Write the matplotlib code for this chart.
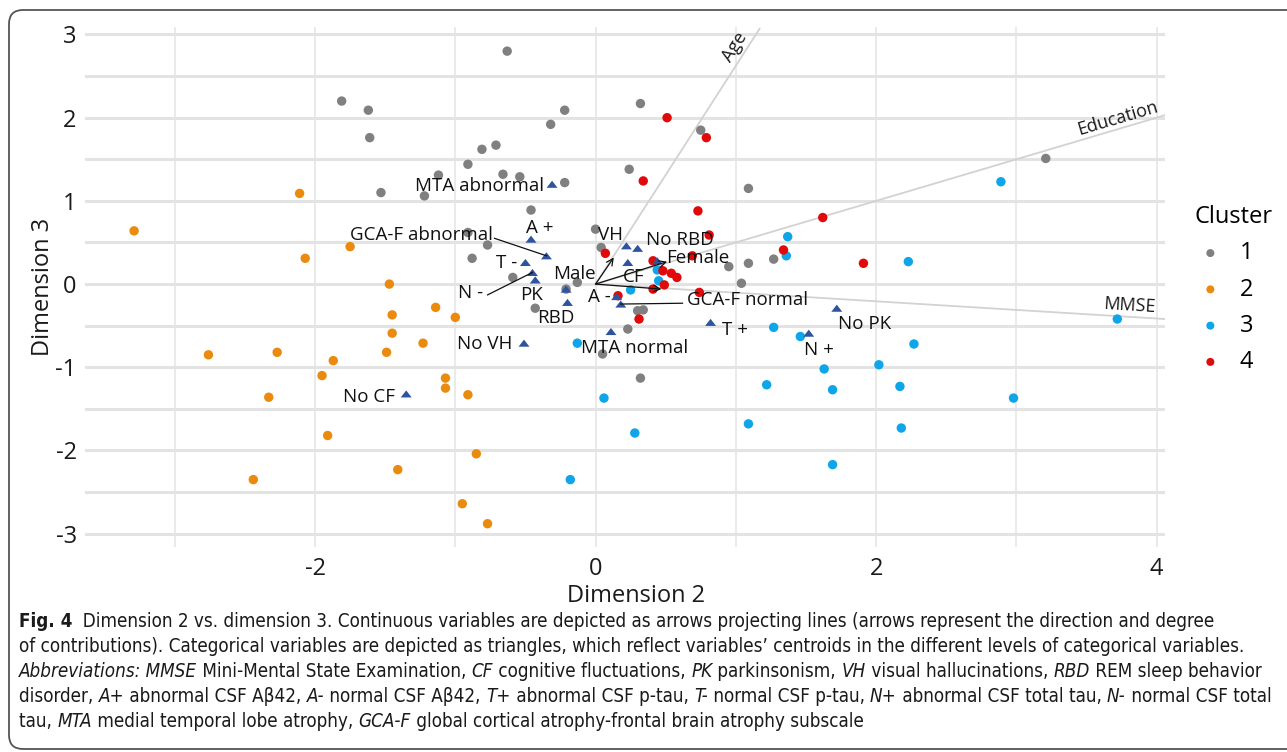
import matplotlib
matplotlib.use('Agg')
import matplotlib.pyplot as plt
from matplotlib import font_manager
from matplotlib.font_manager import FontProperties
from matplotlib.patches import FancyBboxPatch
from matplotlib.transforms import IdentityTransform

W, H = 1287, 752

# individual scores, Dimension 2 (x) vs Dimension 3 (y), by cluster
c1_x = [-1.81, -1.62, -1.61, -1.53, -1.22, -1.12, -0.91, -0.81, -0.71, -0.91, -0.77, -0.88, -0.63,
        -0.22, -0.32, 0.32, 0.75, 0.24, 1.09, -0.66, -0.54, -0.22, -0.46, 0.00, 0.04, 1.09, 1.27,
        0.95, -0.13, -0.59, 1.04, -0.43, -0.21, 0.30, 0.34, 0.23, 0.05, 0.32, 3.21]
c1_y = [2.20, 2.09, 1.76, 1.10, 1.06, 1.31, 1.44, 1.62, 1.67, 0.62, 0.47, 0.31, 2.80,
        2.09, 1.92, 2.17, 1.85, 1.38, 1.15, 1.32, 1.29, 1.22, 0.89, 0.66, 0.44, 0.25, 0.30,
        0.21, 0.02, 0.08, 0.01, -0.29, -0.06, -0.32, -0.31, -0.54, -0.84, -1.13, 1.51]

c2_x = [-3.29, -2.11, -2.07, -1.75, -1.47, -1.14, -1.00, -1.45, -1.45, -1.23, -1.49, -2.27, -2.76,
        -1.87, -1.95, -1.07, -1.07, -0.91, -2.33, -1.91, -0.85, -1.41, -2.44, -0.95, -0.77]
c2_y = [0.64, 1.09, 0.31, 0.45, 0.00, -0.28, -0.40, -0.37, -0.59, -0.71, -0.82, -0.82, -0.85,
        -0.92, -1.10, -1.13, -1.25, -1.33, -1.36, -1.82, -2.04, -2.23, -2.35, -2.64, -2.88]

c3_x = [0.25, -0.13, 0.06, 0.28, -0.18, 1.27, 1.46, 2.27, 1.63, 1.69, 2.02, 2.17, 1.22, 1.09,
        2.18, 1.69, 2.89, 2.23, 3.72, 2.98, 1.37, 1.36, 0.45, 0.44]
c3_y = [-0.07, -0.71, -1.37, -1.79, -2.35, -0.52, -0.63, -0.72, -1.02, -1.27, -0.97, -1.23, -1.21,
        -1.68, -1.73, -2.17, 1.23, 0.27, -0.42, -1.37, 0.57, 0.34, 0.04, 0.17]

c4_x = [0.51, 0.79, 0.34, 0.73, 1.62, 0.81, 1.34, 0.07, 1.91, 0.41, 0.48, 0.69, 0.54, 0.58,
        0.49, 0.41, 0.74, 0.16, 0.31]
c4_y = [2.00, 1.76, 1.24, 0.88, 0.80, 0.59, 0.41, 0.37, 0.25, 0.28, 0.16, 0.34, 0.13, 0.08,
        -0.01, -0.06, -0.10, -0.14, -0.42]

cluster_names = ['1', '2', '3', '4']
cluster_colors = ['#808080', '#EA8B10', '#0EA5E9', '#E10A0A']

# centroids of categorical variable levels
cat_names = ['MTA abnormal', 'A +', 'GCA-F abnormal', 'T -', 'N -', 'PK', 'Male', 'RBD', 'No VH',
             'No CF', 'VH', 'No RBD', 'CF', 'Female', 'A -', 'GCA-F normal', 'MTA normal', 'T +',
             'N +', 'No PK']
cat_x = [-0.31, -0.46, -0.35, -0.50, -0.45, -0.43, -0.21, -0.20, -0.51, -1.35, 0.22, 0.30, 0.23,
         0.44, 0.15, 0.18, 0.11, 0.82, 1.52, 1.72]
cat_y = [1.20, 0.54, 0.34, 0.26, 0.14, 0.05, -0.06, -0.22, -0.71, -1.32, 0.46, 0.43, 0.26,
         0.28, -0.15, -0.24, -0.57, -0.46, -0.59, -0.29]

# continuous variables: arrow tips and projecting line ends
cont_names = ['Age', 'Education', 'MMSE']
arrow_x = [0.13, 0.51, 0.47]
arrow_y = [0.32, 0.27, -0.06]
proj_x = [1.17, 4.06, 4.06]
proj_y = [3.07, 2.03, -0.42]

# label placement (x, y, ha)
label_pos = {
    'MTA abnormal': (-0.37, 1.18, 'right'), 'A +': (-0.40, 0.68, 'center'),
    'GCA-F abnormal': (-0.73, 0.59, 'right'), 'T -': (-0.56, 0.25, 'right'),
    'N -': (-0.80, -0.11, 'right'), 'PK': (-0.46, -0.13, 'center'),
    'Male': (-0.15, 0.12, 'center'), 'RBD': (-0.28, -0.41, 'center'),
    'No VH': (-0.59, -0.72, 'right'), 'No CF': (-1.43, -1.36, 'right'),
    'VH': (0.11, 0.59, 'center'), 'No RBD': (0.60, 0.53, 'center'),
    'CF': (0.27, 0.08, 'center'), 'Female': (0.50, 0.31, 'left'),
    'A -': (0.03, -0.16, 'center'), 'GCA-F normal': (0.65, -0.19, 'left'),
    'MTA normal': (0.28, -0.77, 'center'), 'T +': (0.90, -0.55, 'left'),
    'N +': (1.59, -0.79, 'center'), 'No PK': (1.73, -0.48, 'left'),
}
leaders = {'GCA-F abnormal': (-0.72, 0.55), 'N -': (-0.77, -0.13), 'GCA-F normal': (0.62, -0.23)}
cont_label_pos = [(0.99, 2.85, 57.5), (3.72, 1.99, 16.5), (3.81, -0.26, -3.5)]

plt.rcParams['font.family'] = ['Open Sans', 'DejaVu Sans']
plt.rcParams['axes.unicode_minus'] = False

fig = plt.figure(figsize=(W / 100, H / 100), dpi=100)
ax = fig.add_axes([85 / W, 1 - 547 / H, 1080 / W, 520 / H])
ax.set_xlim(-3.64, 4.06)
ax.set_ylim(-3.16, 3.09)

ax.set_xticks([-2, 0, 2, 4])
ax.set_xticks([-3, -1, 1, 3], minor=True)
ax.set_yticks([-3, -2, -1, 0, 1, 2, 3])
ax.set_yticks([-2.5, -1.5, -0.5, 0.5, 1.5, 2.5], minor=True)
ax.grid(axis='y', which='both', color='#e3e3e3', lw=2.2, zorder=0)
ax.grid(axis='x', which='both', color='#e6e6e6', lw=1.2, zorder=0)
ax.set_axisbelow(True)
for s in ax.spines.values():
    s.set_visible(False)
ax.tick_params(which='both', length=0, labelsize=17, colors='#1a1a1a')
ax.tick_params(axis='x', pad=7)
ax.tick_params(axis='y', pad=6)

# projecting lines
for i in range(3):
    ax.plot([0, proj_x[i]], [0, proj_y[i]], color='#d2d2d2', lw=1.3, zorder=1)
    lx, ly, rot = cont_label_pos[i]
    ax.text(lx, ly, cont_names[i], fontsize=13, rotation=rot, rotation_mode='anchor',
            ha='center', va='center', color='#1a1a1a', zorder=6)

xs = [c1_x, c2_x, c3_x, c4_x]
ys = [c1_y, c2_y, c3_y, c4_y]
handles = []
for i in range(4):
    h = ax.scatter(xs[i], ys[i], s=46, color=cluster_colors[i], edgecolors='none', zorder=3,
                   label=cluster_names[i])
    handles.append(h)

tri = [(-1, -0.65), (1, -0.65), (0, 0.65), (-1, -0.65)]
ax.scatter(cat_x, cat_y, marker=tri, s=62, color='#2E54A0', edgecolors='none', zorder=4)

for i in range(3):
    ax.annotate('', xy=(arrow_x[i], arrow_y[i]), xytext=(0, 0),
                arrowprops=dict(arrowstyle='->', color='#111111', lw=0.9, shrinkA=0, shrinkB=0,
                                mutation_scale=12), zorder=5)

for name, cx, cy in zip(cat_names, cat_x, cat_y):
    lx, ly, ha = label_pos[name]
    ax.text(lx, ly, name, fontsize=13.5, ha=ha, va='center', color='#111111', zorder=6)
    if name in leaders:
        ex, ey = leaders[name]
        ax.plot([ex, cx], [ey, cy], color='#111111', lw=0.9, zorder=5)

ax.set_xlabel('Dimension 2', fontsize=17, color='#1a1a1a')
ax.xaxis.set_label_coords(0.51, -0.072)
ax.set_ylabel('Dimension 3', fontsize=17, color='#1a1a1a')
ax.yaxis.set_label_coords(-0.028, 0.5)

ax.legend(handles=handles, title='Cluster', loc='upper left', bbox_to_anchor=(1195 / W, 1 - 205 / H),
          bbox_transform=fig.transFigure, frameon=False, fontsize=17, title_fontsize=17,
          markerscale=0.85, handlelength=1.3, handletextpad=0.6, labelspacing=0.52,
          borderpad=0, borderaxespad=0, alignment='left')

# frame around figure
box = FancyBboxPatch((9, 3), 1310, 739, boxstyle='round,pad=0,rounding_size=14',
                     transform=IdentityTransform(), fill=False, ec='#555555', lw=1.3)
fig.add_artist(box)

# caption: prefer a condensed face
files = [f.fname for f in font_manager.fontManager.ttflist]


def pick(cands):
    for c in cands:
        for fn in files:
            if fn.split('/')[-1].lower() == c.lower():
                return FontProperties(fname=fn)
    return None


cap_props = {
    'r': pick(['LiberationSansNarrow-Regular.ttf', 'DejaVuSansCondensed.ttf']),
    'i': pick(['LiberationSansNarrow-Italic.ttf', 'DejaVuSansCondensed-Oblique.ttf']),
    'b': pick(['LiberationSansNarrow-Bold.ttf', 'DejaVuSansCondensed-Bold.ttf']),
}
fallback = {'r': FontProperties(family='Liberation Sans'),
            'i': FontProperties(family='Liberation Sans', style='italic'),
            'b': FontProperties(family='Liberation Sans', weight='bold')}
for k in cap_props:
    if cap_props[k] is None:
        cap_props[k] = fallback[k]

renderer = fig.canvas.get_renderer()

caption = [
    [('Fig. 4', 'b'), ('  Dimension 2 vs. dimension 3. Continuous variables are depicted as arrows projecting lines (arrows represent the direction and degree', 'r')],
    [("of contributions). Categorical variables are depicted as triangles, which reflect variables\u2019 centroids in the different levels of categorical variables.", 'r')],
    [('Abbreviations: MMSE', 'i'), (' Mini-Mental State Examination, ', 'r'), ('CF', 'i'), (' cognitive fluctuations, ', 'r'),
     ('PK', 'i'), (' parkinsonism, ', 'r'), ('VH', 'i'), (' visual hallucinations, ', 'r'), ('RBD', 'i'), (' REM sleep behavior', 'r')],
    [('disorder, ', 'r'), ('A+', 'i'), (' abnormal CSF A\u03b242, ', 'r'), ('A-', 'i'), (' normal CSF A\u03b242, ', 'r'),
     ('T+', 'i'), (' abnormal CSF p-tau, ', 'r'), ('T-', 'i'), (' normal CSF p-tau, ', 'r'), ('N+', 'i'),
     (' abnormal CSF total tau, ', 'r'), ('N-', 'i'), (' normal CSF total', 'r')],
    [('tau, ', 'r'), ('MTA', 'i'), (' medial temporal lobe atrophy, ', 'r'), ('GCA-F', 'i'),
     (' global cortical atrophy-frontal brain atrophy subscale', 'r')],
]
cap_base = [627, 652, 677, 702, 727]


def seg_prop(kind, size):
    p = cap_props[kind].copy()
    p.set_size(size)
    return p


def seg_width(txt, kind, size):
    t1 = fig.text(0, 0, '|' + txt + '|', fontproperties=seg_prop(kind, size))
    t2 = fig.text(0, 0, '||', fontproperties=seg_prop(kind, size))
    w = t1.get_window_extent(renderer).width - t2.get_window_extent(renderer).width
    t1.remove()
    t2.remove()
    return w


base_size = 11
w4 = sum(seg_width(t, k, base_size) for t, k in caption[3])
cap_size = min(base_size * 1255 / w4, 14)

for line, yb in zip(caption, cap_base):
    x = 19
    for txt, kind in line:
        fig.text(x / W, 1 - yb / H, txt, va='baseline', ha='left', color='#1a1a1a',
                 fontproperties=seg_prop(kind, cap_size))
        x += seg_width(txt, kind, cap_size)

fig.savefig('out.png', dpi=100)
